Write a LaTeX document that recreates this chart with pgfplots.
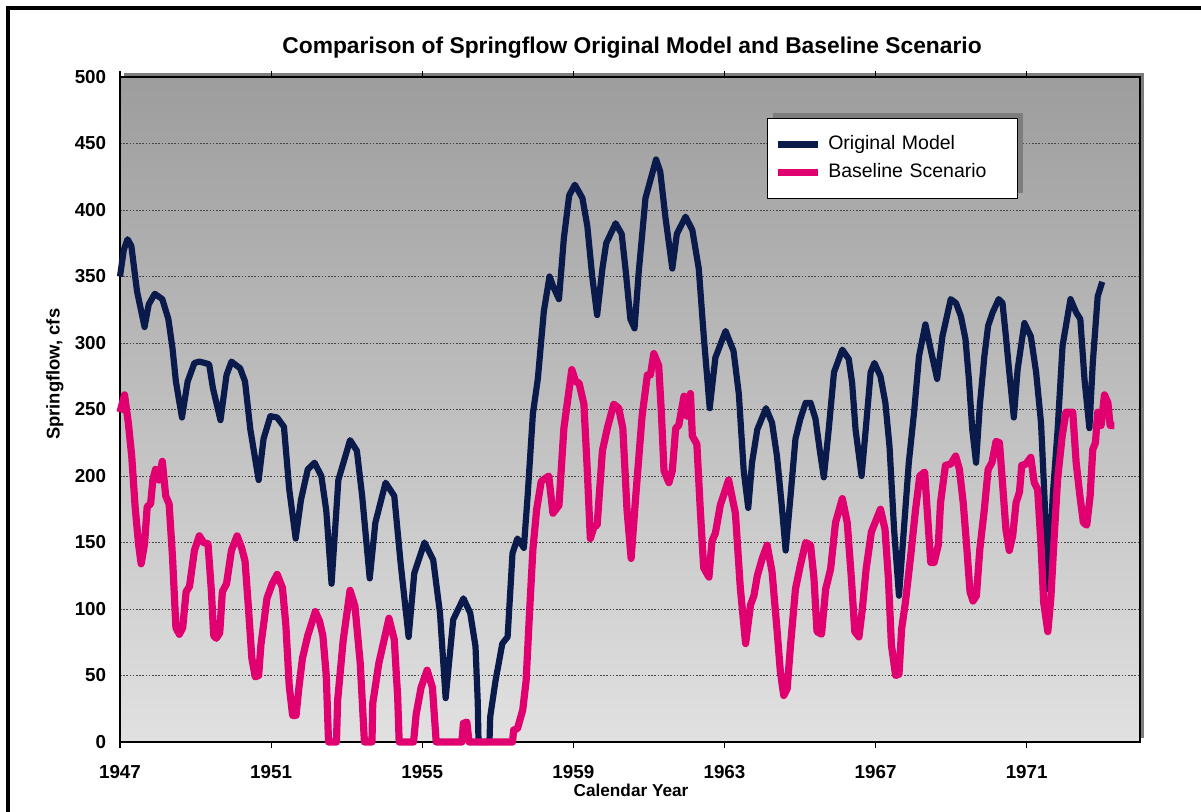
\documentclass[border=0pt]{standalone}
\usepackage{fontspec}
\setmainfont{Liberation Sans}
\usepackage{pgfplots}
\pgfplotsset{compat=1.18}
\definecolor{navyline}{RGB}{10,26,75}
\definecolor{pinkline}{RGB}{224,0,112}
\definecolor{bgtop}{RGB}{158,157,158}
\definecolor{bgbot}{RGB}{225,225,225}
\definecolor{shadowgray}{RGB}{125,125,125}
\begin{document}
\begin{tikzpicture}
% page = 1201 x 811 px, 1 px = 0.5pt, axis box origin at (120px, 742px)
\path[use as bounding box] (-60pt,-34.5pt) rectangle (540.5pt,371pt);
\draw[line width=2pt] (-56pt,-40pt) -- (-56pt,367pt) -- (546pt,367pt);
\fill[shadowgray] (2pt,2pt) rectangle (512pt,334.5pt);
\begin{axis}[
  at={(0,0)}, anchor=south west,
  scale only axis, width=510pt, height=332.5pt,
  xmin=1947, xmax=1974, ymin=0, ymax=500,
  xtick={1947,1951,...,1971},
  ytick={0,50,...,500},
  clip=false,
  axis background/.style={top color=bgtop, bottom color=bgbot},
  axis line style={black, line width=1pt},
  ymajorgrids,
  grid style={gray!55!black, line width=0.5pt, dash pattern=on 0.8pt off 0.8pt},
  xtick align=outside,
  major tick length=3pt,
  xtick style={black, line width=0.6pt},
  ytick style={draw=none},
  /pgf/number format/assume math mode=true,
  /pgf/number format/1000 sep={},
  xticklabel style={font=\fontsize{9.4}{11}\selectfont\bfseries, yshift=-5pt},
  yticklabel style={font=\fontsize{9.4}{11}\selectfont\bfseries, xshift=-3.4pt},
  title={Comparison of Springflow Original Model and Baseline Scenario},
  title style={at={(axis description cs:0.502,1.026)}, anchor=center,
    font=\fontsize{11.4}{13}\selectfont\bfseries},
  xlabel={Calendar Year},
  xlabel style={at={(axis description cs:0.501,-0.072)}, anchor=center,
    font=\fontsize{8.6}{10}\selectfont\bfseries},
  ylabel={Springflow, cfs},
  ylabel style={at={(axis description cs:-0.0637,0.553)}, anchor=center, rotate=0,
    font=\fontsize{9.2}{11}\selectfont\bfseries},
  legend cell align=left,
  legend image code/.code={\draw[#1, line width=3.5pt, line cap=butt] (0pt,0pt) -- (20pt,0pt);},
  legend style={at={(axis description cs:0.634,0.938)}, anchor=north west,
    draw=black, line width=0.6pt, fill=white,
    font=\fontsize{9.75}{11.7}\selectfont,
    inner xsep=3.5pt, inner ysep=6pt, row sep=0pt, column sep=1pt,
    nodes={inner xsep=2.5pt, inner ysep=2.5pt, text height=7pt, text depth=2pt,
      text width=88.5pt}},
]
\addplot[navyline, line width=3.1pt, line join=round] coordinates {
(1947.00,350) (1947.10,370) (1947.20,378) (1947.30,373) (1947.45,339)
(1947.65,312) (1947.76,329) (1947.92,337) (1948.12,333) (1948.28,318)
(1948.39,296) (1948.48,271) (1948.64,244) (1948.79,271) (1948.97,285)
(1949.10,286) (1949.24,285) (1949.36,284) (1949.46,266) (1949.66,242)
(1949.82,276) (1949.95,286) (1950.18,281) (1950.31,271) (1950.45,235)
(1950.67,197) (1950.80,228) (1950.98,245) (1951.16,244) (1951.34,237)
(1951.48,190) (1951.65,153) (1951.79,182) (1951.97,205) (1952.15,210)
(1952.33,200) (1952.46,174) (1952.60,119) (1952.78,197) (1953.09,227)
(1953.27,219) (1953.41,185) (1953.61,123) (1953.76,165) (1954.03,195)
(1954.26,185) (1954.43,134) (1954.64,79) (1954.79,127) (1955.06,150)
(1955.29,137) (1955.47,97) (1955.62,33) (1955.82,92) (1956.09,108)
(1956.27,97) (1956.41,72) (1956.47,30) (1956.49,0) (1956.78,0)
(1956.80,19) (1956.94,46) (1957.12,74) (1957.26,79) (1957.39,142)
(1957.52,153) (1957.69,146) (1957.79,185) (1957.93,247) (1958.06,273)
(1958.22,324) (1958.37,350) (1958.49,341) (1958.62,333) (1958.75,379)
(1958.89,411) (1959.04,419) (1959.24,409) (1959.37,388) (1959.50,350)
(1959.63,321) (1959.77,356) (1959.87,375) (1960.12,390) (1960.28,382)
(1960.38,356) (1960.51,318) (1960.62,311) (1960.73,353) (1960.91,409)
(1961.19,438) (1961.30,429) (1961.44,394) (1961.62,356) (1961.74,382)
(1961.97,395) (1962.15,385) (1962.32,356) (1962.45,306) (1962.61,251)
(1962.76,289) (1963.03,309) (1963.24,294) (1963.38,262) (1963.51,204)
(1963.63,176) (1963.73,210) (1963.87,235) (1964.10,251) (1964.26,240)
(1964.39,215) (1964.51,180) (1964.62,144) (1964.75,185) (1964.88,228)
(1965.01,243) (1965.15,255) (1965.28,255) (1965.41,243) (1965.52,220)
(1965.63,199) (1965.76,235) (1965.90,278) (1966.12,295) (1966.29,288)
(1966.38,270) (1966.47,235) (1966.63,200) (1966.74,235) (1966.87,278)
(1966.97,285) (1967.13,275) (1967.26,255) (1967.37,222) (1967.49,160)
(1967.62,110) (1967.75,160) (1967.88,210) (1968.02,248) (1968.15,290)
(1968.32,314) (1968.46,295) (1968.63,273) (1968.77,305) (1968.99,333)
(1969.13,330) (1969.26,320) (1969.38,303) (1969.47,273) (1969.56,235)
(1969.66,210) (1969.76,253) (1969.88,290) (1969.98,313) (1970.10,323)
(1970.26,333) (1970.36,330) (1970.45,305) (1970.54,278) (1970.66,244)
(1970.76,280) (1970.94,315) (1971.11,305) (1971.25,278) (1971.38,240)
(1971.47,185) (1971.57,115) (1971.69,185) (1971.82,235) (1971.95,298)
(1972.16,333) (1972.31,323) (1972.42,318) (1972.53,273) (1972.66,236)
(1972.75,285) (1972.88,335) (1973.00,346)
};
\addlegendentry{Original Model}
\addplot[pinkline, line width=3.6pt, line join=round] coordinates {
(1947.00,248) (1947.12,261) (1947.22,240) (1947.31,215) (1947.40,177)
(1947.49,149) (1947.56,134) (1947.65,149) (1947.72,177) (1947.81,179)
(1947.87,197) (1947.94,205) (1948.03,197) (1948.12,211) (1948.21,185)
(1948.30,179) (1948.39,139) (1948.48,86) (1948.57,81) (1948.66,86)
(1948.75,113) (1948.84,117) (1948.97,144) (1949.10,155) (1949.21,150)
(1949.33,149) (1949.42,113) (1949.48,80) (1949.55,78) (1949.64,82)
(1949.71,113) (1949.82,119) (1949.95,144) (1950.10,155) (1950.22,146)
(1950.31,136) (1950.40,101) (1950.49,63) (1950.58,49) (1950.67,50)
(1950.73,73) (1950.80,88) (1950.89,108) (1951.03,119) (1951.16,126)
(1951.30,116) (1951.39,88) (1951.48,42) (1951.57,20) (1951.66,20)
(1951.74,42) (1951.83,63) (1951.97,80) (1952.17,98) (1952.28,91)
(1952.37,80) (1952.46,50) (1952.52,0) (1952.73,0) (1952.76,31)
(1952.91,77) (1953.09,114) (1953.22,102) (1953.36,59) (1953.47,0)
(1953.67,0) (1953.69,29) (1953.85,59) (1954.12,93) (1954.26,77)
(1954.35,34) (1954.39,0) (1954.77,0) (1954.84,21) (1954.97,41)
(1955.13,54) (1955.27,41) (1955.37,0) (1956.05,0) (1956.09,14)
(1956.18,15) (1956.24,0) (1957.39,0) (1957.42,9) (1957.52,10)
(1957.66,24) (1957.75,46) (1957.84,97) (1957.93,145) (1958.03,175)
(1958.15,196) (1958.35,200) (1958.46,172) (1958.62,178) (1958.75,236)
(1958.96,280) (1959.06,271) (1959.15,270) (1959.28,254) (1959.37,204)
(1959.45,153) (1959.55,162) (1959.63,163) (1959.77,219) (1959.90,236)
(1960.07,254) (1960.20,251) (1960.31,236) (1960.42,175) (1960.53,138)
(1960.65,184) (1960.82,245) (1960.96,276) (1961.04,276) (1961.13,292)
(1961.26,283) (1961.33,248) (1961.40,204) (1961.53,195) (1961.62,204)
(1961.71,236) (1961.79,238) (1961.93,260) (1962.01,245) (1962.10,262)
(1962.15,230) (1962.27,224) (1962.36,175) (1962.45,131) (1962.59,124)
(1962.67,151) (1962.76,157) (1962.89,178) (1963.11,197) (1963.29,172)
(1963.42,116) (1963.56,74) (1963.69,103) (1963.78,110) (1963.87,125)
(1964.00,138) (1964.13,148) (1964.26,128) (1964.39,85) (1964.48,53)
(1964.57,35) (1964.66,40) (1964.75,73) (1964.88,115) (1965.01,133)
(1965.15,150) (1965.28,148) (1965.37,123) (1965.45,83) (1965.57,81)
(1965.68,115) (1965.81,130) (1965.94,165) (1966.12,183) (1966.25,165)
(1966.36,123) (1966.45,83) (1966.56,79) (1966.65,100) (1966.75,130)
(1966.89,158) (1967.13,175) (1967.25,160) (1967.34,123) (1967.42,73)
(1967.53,50) (1967.62,51) (1967.69,85) (1967.79,105) (1967.93,140)
(1968.06,175) (1968.17,200) (1968.30,203) (1968.37,173) (1968.46,135)
(1968.55,135) (1968.66,148) (1968.72,180) (1968.85,208) (1968.99,209)
(1969.12,215) (1969.22,205) (1969.32,180) (1969.41,148) (1969.50,113)
(1969.58,106) (1969.67,110) (1969.76,145) (1969.88,175) (1969.98,205)
(1970.08,210) (1970.19,226) (1970.28,225) (1970.36,195) (1970.45,160)
(1970.54,144) (1970.63,155) (1970.72,180) (1970.81,188) (1970.87,208)
(1970.98,209) (1971.11,214) (1971.20,195) (1971.29,190) (1971.38,148)
(1971.45,105) (1971.56,83) (1971.64,108) (1971.73,155) (1971.82,198)
(1971.94,230) (1972.04,248) (1972.22,248) (1972.31,210) (1972.41,185)
(1972.50,165) (1972.59,163) (1972.68,185) (1972.75,220) (1972.82,225)
(1972.88,248) (1972.97,238) (1973.06,261) (1973.15,255) (1973.21,238)
(1973.32,238)
};
\addlegendentry{Baseline Scenario}
% drop shadow behind the legend box
\fill[shadowgray] ([xshift=3pt,yshift=2.5pt]axis description cs:0.634,0.818)
  rectangle ([xshift=3pt,yshift=2.5pt]axis description cs:0.8795,0.938);
\end{axis}
\end{tikzpicture}
\end{document}
